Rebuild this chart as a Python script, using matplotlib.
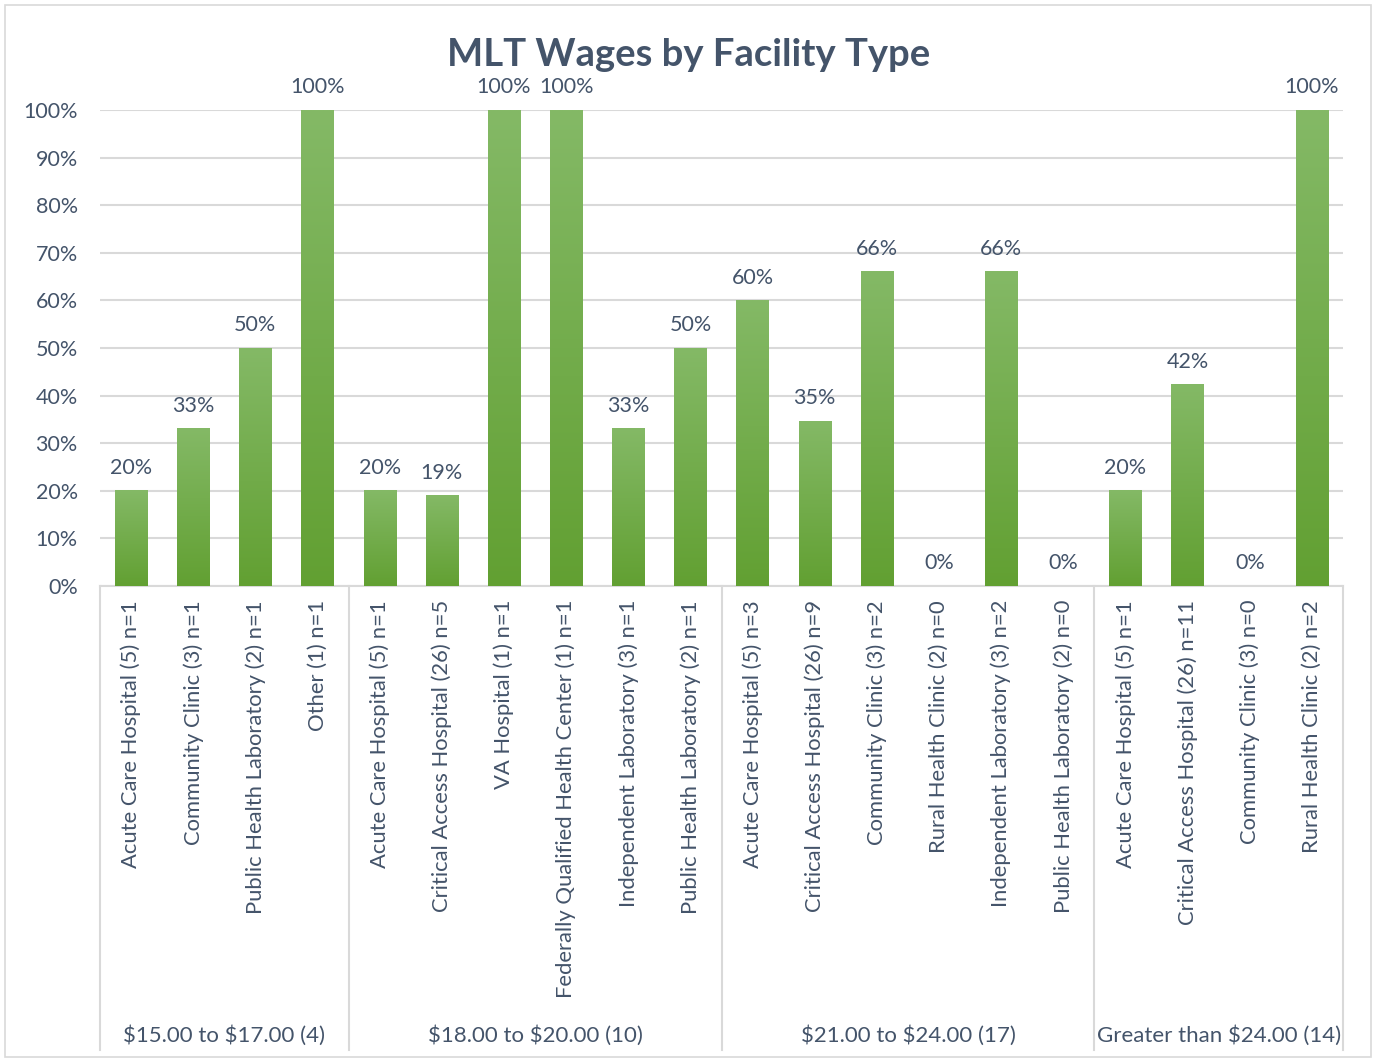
import numpy as np
import matplotlib
matplotlib.use("Agg")
import matplotlib.pyplot as plt
from matplotlib.colors import LinearSegmentedColormap
from matplotlib.patches import Rectangle

plt.rcParams['font.family'] = ['Lato', 'DejaVu Sans']
plt.rcParams['text.parse_math'] = False

groups = ["$15.00 to $17.00 (4)", "$18.00 to $20.00 (10)",
          "$21.00 to $24.00 (17)", "Greater than $24.00 (14)"]
group_sizes = [4, 6, 6, 4]
categories = [
    "Acute Care Hospital (5) n=1", "Community Clinic (3) n=1",
    "Public Health Laboratory (2) n=1", "Other (1) n=1",
    "Acute Care Hospital (5) n=1", "Critical Access Hospital (26) n=5",
    "VA Hospital (1) n=1", "Federally Qualified Health Center (1) n=1",
    "Independent Laboratory (3) n=1", "Public Health Laboratory (2) n=1",
    "Acute Care Hospital (5) n=3", "Critical Access Hospital (26) n=9",
    "Community Clinic (3) n=2", "Rural Health Clinic (2) n=0",
    "Independent Laboratory (3) n=2", "Public Health Laboratory (2) n=0",
    "Acute Care Hospital (5) n=1", "Critical Access Hospital (26) n=11",
    "Community Clinic (3) n=0", "Rural Health Clinic (2) n=2",
]
values = [0.20, 0.33, 0.50, 1.00,
          0.20, 0.19, 1.00, 1.00, 0.33, 0.50,
          0.60, 0.346, 0.66, 0.0, 0.66, 0.0,
          0.20, 0.423, 0.0, 1.00]

text_col = "#44546a"
grid_col = "#d9d9d9"

fig = plt.figure(figsize=(13.76, 10.62), dpi=100)
ax = fig.add_axes([100/1376, 1-586/1062, 1243/1376, 476/1062])

x = np.arange(len(values))
bw = 0.52
bars = ax.bar(x, values, width=bw, color="none", zorder=3)
cmap = LinearSegmentedColormap.from_list("g", ["#62a032", "#84b966"])
grad = np.linspace(0, 1, 256).reshape(-1, 1)
for b, v in zip(bars, values):
    x0 = b.get_x()
    if v > 0:
        ax.imshow(grad, cmap=cmap, origin="lower", aspect="auto",
                  extent=(x0, x0 + bw, 0, v), zorder=3)
    ax.text(x0 + bw/2, v + 0.027, "{:.0f}%".format(v*100),
            ha="center", va="bottom", fontsize=15.5, color=text_col)

ax.set_xlim(-0.5, len(values) - 0.5)
ax.set_ylim(0, 1)
yt = np.arange(0, 1.01, 0.1)
ax.set_yticks(yt)
ax.set_yticklabels(["{}%".format(int(round(t*100))) for t in yt])
ax.yaxis.grid(True, color=grid_col, lw=1.5, zorder=0)
ax.set_axisbelow(True)
for s in ["top", "right", "left"]:
    ax.spines[s].set_visible(False)
ax.spines["bottom"].set_color(grid_col)
ax.spines["bottom"].set_linewidth(1.5)
ax.tick_params(axis="y", length=0, pad=16, labelsize=15.5, labelcolor=text_col)
ax.set_xticks(x)
ax.set_xticklabels(categories, rotation=90, fontsize=15.8, color=text_col)
ax.tick_params(axis="x", length=0, pad=10)

trans = ax.get_xaxis_transform()
edges = np.concatenate([[0], np.cumsum(group_sizes)]) - 0.5
for e in edges:
    ax.plot([e, e], [0, -0.975], transform=trans, color=grid_col,
            lw=1.5, clip_on=False)
for g, a, b2 in zip(groups, edges[:-1], edges[1:]):
    ax.text((a + b2)/2, -0.945, g, transform=trans, ha="center",
            va="center", fontsize=16, color=text_col)

fig.text(689/1376, 1-55/1062, "MLT Wages by Facility Type", ha="center",
         va="center", fontsize=27.5, fontweight="bold", color=text_col)
fig.patches.append(Rectangle((5/1376, 5/1062), 1366/1376, 1052/1062,
                             transform=fig.transFigure, fill=False,
                             edgecolor=grid_col, lw=1.2))

fig.savefig("out.png", dpi=100)
